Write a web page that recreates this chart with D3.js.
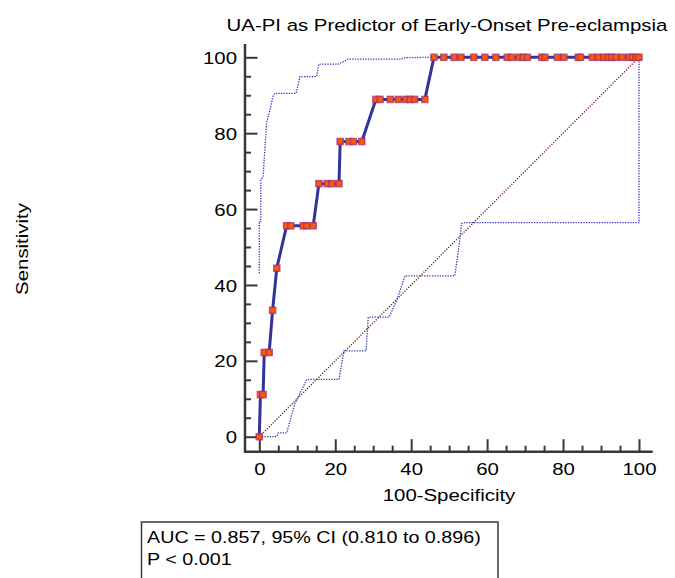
<!DOCTYPE html>
<html>
<head>
<meta charset="utf-8">
<script src="https://cdn.jsdelivr.net/npm/d3@7"></script>
<style>
  body { margin: 0; background: #fff; }
  svg text { font-family: "Liberation Sans", Arial, sans-serif; font-size: 17px; fill: #000; }
</style>
</head>
<body>
<svg width="675" height="578"></svg>
<script>
// ROC points (100-Specificity, Sensitivity)
var rocFpr = [0, 0.3, 1.0, 1.3, 2.6, 3.5, 4.6,
  7.2, 8.3, 11.6, 12.5, 14.2,
  15.7, 17.9, 19.1, 21.0,
  21.3, 23.6, 24.8, 27.0,
  30.7, 31.8, 34.5, 36.6, 38.6, 39.7, 40.9, 43.6,
  46.0, 48.6, 51.3, 53.1, 56.5, 59.4, 62.3, 65.3, 66.5, 68.4, 69.5, 70.6,
  74.4, 75.2, 78.5, 80.2, 84.0, 84.6, 87.7, 89.3, 90.8, 91.9, 92.8, 93.9,
  95.6, 97.4, 98.3, 99.2, 100];
var rocTpr = [0, 11.1, 11.1, 22.2, 22.2, 33.3, 44.4,
  55.6, 55.6, 55.6, 55.6, 55.6,
  66.7, 66.7, 66.7, 66.7,
  77.8, 77.8, 77.8, 77.8,
  88.9, 88.9, 88.9, 88.9, 88.9, 88.9, 88.9, 88.9,
  100, 100, 100, 100, 100, 100, 100, 100, 100, 100, 100, 100,
  100, 100, 100, 100, 100, 100, 100, 100, 100, 100, 100, 100,
  100, 100, 100, 100, 100];

// 95% confidence bounds
var upperX = [0, 0, 0.4, 0.4, 1.0, 1.5, 1.9, 2.8, 3.7, 4.1, 9.7, 10.7, 15.1, 15.7, 20.8, 23.4, 37.1, 38.4, 46.0, 100];
var upperY = [43.1, 56.7, 56.7, 67.7, 68.5, 76.4, 82.6, 86.1, 90.1, 90.5, 90.5, 94.9, 94.9, 98.2, 98.2, 99.5, 99.5, 99.9, 100, 100];
var lowerX = [0, 4.6, 5.0, 7.2, 9.4, 12.5, 21.0, 22.3, 28.1, 28.7, 34.2, 36.2, 38.4, 51.5, 52.8, 53.3, 53.7, 100, 100];
var lowerY = [0, 0, 1.0, 1.0, 8.8, 15.1, 15.1, 22.6, 22.6, 31.5, 31.5, 36.0, 42.4, 42.4, 51.8, 56.2, 56.4, 56.4, 100];

var majorTicks = [0, 20, 40, 60, 80, 100];
var minorTicks = [5, 10, 15, 25, 30, 35, 45, 50, 55, 65, 70, 75, 85, 90, 95];

var titleText = "UA-PI as Predictor of Early-Onset Pre-eclampsia";
var xTitle = "100-Specificity";
var yTitle = "Sensitivity";
var statLines = ["AUC = 0.857, 95% CI (0.810 to 0.896)", "P < 0.001"];

var SX = 1.2; // text is drawn wide in the source

var svg = d3.select("svg");

var x = d3.scaleLinear().domain([0, 100]).range([259.3, 639]);
var y = d3.scaleLinear().domain([0, 100]).range([436.7, 57.3]);
var axisX = 245, axisY = 451.7;

function label(g, px, py, txt, anchor, rot, sx) {
  return g.append("text")
    .attr("transform", "translate(" + px + "," + py + ")" + (rot ? " rotate(" + rot + ")" : "") + " scale(" + (sx || SX) + ",1)")
    .attr("text-anchor", anchor)
    .text(txt);
}

// axes
var gx = svg.append("g").attr("transform", "translate(0," + axisY + ")");
gx.call(d3.axisBottom(x).tickValues(majorTicks).tickSize(-12.5).tickSizeOuter(0).tickPadding(11));
gx.append("g").call(d3.axisBottom(x).tickValues(minorTicks).tickSize(-6).tickSizeOuter(0).tickFormat(""));

var gy = svg.append("g").attr("transform", "translate(" + axisX + ",0)");
gy.call(d3.axisLeft(y).tickValues(majorTicks).tickSize(-12.5).tickSizeOuter(0));
gy.append("g").call(d3.axisLeft(y).tickValues(minorTicks).tickSize(-6).tickSizeOuter(0).tickFormat(""));

svg.selectAll(".domain").remove();
svg.selectAll(".tick line").attr("stroke", "#383838").attr("stroke-width", 2);
gx.selectAll(".tick text")
  .attr("font-size", null).attr("font-family", null)
  .attr("transform", "scale(" + SX + ",1)")
  .attr("x", 0);
gy.selectAll(".tick text")
  .attr("font-size", null).attr("font-family", null)
  .attr("transform", "scale(" + SX + ",1)")
  .attr("x", -8 / SX).attr("dy", "0.36em");
svg.selectAll(".tick text").style("font-size", "17px").style("font-family", "'Liberation Sans', Arial, sans-serif");

svg.append("line")
  .attr("x1", axisX).attr("x2", axisX)
  .attr("y1", axisY + 1).attr("y2", 44)
  .attr("stroke", "#383838").attr("stroke-width", 2.5);
svg.append("line")
  .attr("x1", axisX - 1).attr("x2", 652.7)
  .attr("y1", axisY).attr("y2", axisY)
  .attr("stroke", "#383838").attr("stroke-width", 2.5);

// reference diagonal
svg.append("line")
  .attr("x1", x(0)).attr("y1", y(0))
  .attr("x2", x(100)).attr("y2", y(100))
  .attr("stroke", "#7a1414").attr("stroke-width", 1.3)
  .attr("stroke-dasharray", "1.2,1.5");

var line = d3.line().x(function(d) { return x(d[0]); }).y(function(d) { return y(d[1]); });

var upper = d3.zip(upperX, upperY);
var lower = d3.zip(lowerX, lowerY);
[upper, lower].forEach(function(pts) {
  svg.append("path")
    .datum(pts)
    .attr("d", line)
    .attr("fill", "none")
    .attr("stroke", "#3535bb")
    .attr("stroke-width", 1.3)
    .attr("stroke-dasharray", "1.3,1.3");
});

var roc = d3.zip(rocFpr, rocTpr);
svg.append("path")
  .datum(roc)
  .attr("d", line)
  .attr("fill", "none")
  .attr("stroke", "#333399")
  .attr("stroke-width", 3);

svg.append("g").selectAll("rect")
  .data(roc)
  .join("rect")
  .attr("x", function(d) { return x(d[0]) - 3; })
  .attr("y", function(d) { return y(d[1]) - 3; })
  .attr("width", 6).attr("height", 6)
  .attr("fill", "#ff5a00")
  .attr("stroke", "#a8326e")
  .attr("stroke-opacity", 0.75)
  .attr("stroke-width", 1.6);

// titles
label(svg, 447, 31, titleText, "middle");
label(svg, 449, 501, xTitle, "middle");
label(svg, 28, 249, yTitle, "middle", -90);

// stats box
svg.append("rect")
  .attr("x", 141.5).attr("y", 522)
  .attr("width", 356.5).attr("height", 80)
  .attr("fill", "none").attr("stroke", "#383838").attr("stroke-width", 1.5);
statLines.forEach(function(t, i) {
  label(svg, 147, 543, t, "start", 0, 1.16).attr("dy", i * 22.5);
});
</script>
</body>
</html>
